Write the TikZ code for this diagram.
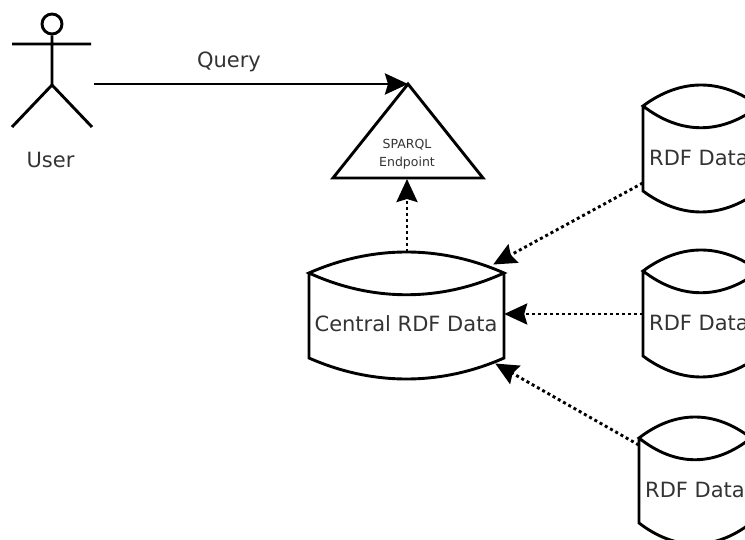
\documentclass[tikz,border=0pt]{standalone}
\usepackage{fontspec}
\setmainfont{DejaVu Sans}
\usetikzlibrary{arrows.meta}
\definecolor{inktext}{gray}{0.2}
\tikzset{
  shapeline/.style={draw=black,line width=2.9pt,line join=miter},
  label text/.style={text=inktext,font=\fontsize{21}{25}\selectfont,inner sep=0pt},
  small text/.style={text=inktext,font=\fontsize{12.5}{17.5}\selectfont,align=center,inner sep=0pt},
  flow/.style={draw=black,line width=2.9pt,-{Stealth[length=23pt,width=21pt,inset=3pt]},shorten >=0pt},
  dotflow/.style={flow,dash pattern=on 3pt off 3pt}
}
% name, centre x, top y, half width
\newcommand{\rdfcyl}[4]{%
  \node[minimum width=#4*2pt,minimum height=127pt,inner sep=0pt] (#1) at (#2,#3+63.5) {};
  \draw[shapeline]
    (#2-#4,#3+21) .. controls (#2-0.35*#4,#3-7) and (#2+0.35*#4,#3-7) .. (#2+#4,#3+21)
    .. controls (#2+0.35*#4,#3+50) and (#2-0.35*#4,#3+50) .. cycle
    (#2-#4,#3+21) -- (#2-#4,#3+106)
    .. controls (#2-0.35*#4,#3+134) and (#2+0.35*#4,#3+134) .. (#2+#4,#3+106) -- (#2+#4,#3+21);
}
\begin{document}
\begin{tikzpicture}[x=1pt,y=-1pt]
\path[use as bounding box,clip] (0,0) rectangle (745,540);
% actor
\node[circle,shapeline,minimum size=20pt,inner sep=0pt] (head) at (52,24) {};
\coordinate (hip) at (52,85);
\coordinate (armL) at (12,44);
\coordinate (armR) at (91,44);
\coordinate (footL) at (12,127);
\coordinate (footR) at (92,127);
\coordinate (queryStart) at (94,84);
\draw[shapeline] (head.south) -- (hip) (armL) -- (armR) (footL) -- (hip) -- (footR);
\node[label text] (user) at (50.5,160) {User};
% triangle
\coordinate (apex) at (408,84);
\coordinate (baseL) at (333,178);
\coordinate (baseR) at (483,178);
\coordinate (baseMid) at (407,179);
\draw[shapeline] (apex) -- (baseR) -- (baseL) -- cycle;
\node[small text] (endpoint) at (407,154) {SPARQL\\Endpoint};
% cylinders
\rdfcyl{central}{406.5}{252}{97.5}
\rdfcyl{rdfa}{701}{85}{58}
\rdfcyl{rdfb}{701}{250}{58}
\rdfcyl{rdfc}{695}{417}{56}
\node[label text] (centraltext) at (406,324) {Central RDF Data};
\node[label text,anchor=west] (rdfatext) at (649,158) {RDF Data};
\node[label text,anchor=west] (rdfbtext) at (649,323) {RDF Data};
\node[label text,anchor=west] (rdfctext) at (645,490) {RDF Data};
% connectors
\draw[flow] (queryStart) -- (apex) node[midway,label text,xshift=-22pt,yshift=22pt] (querytext) {Query};
\draw[dotflow] ([xshift=.5pt]central.north) -- (baseMid);
\draw[dotflow] ([yshift=-34.5pt]rdfa.west) -- ([shift={(-11pt,51pt)}]central.east);
\draw[dotflow] ([yshift=-0.5pt]rdfb.west) -- ([yshift=1.5pt]central.east);
\draw[dotflow] ([yshift=35.5pt]rdfc.west) -- ([shift={(-9pt,-48pt)}]central.east);
\end{tikzpicture}
\end{document}
